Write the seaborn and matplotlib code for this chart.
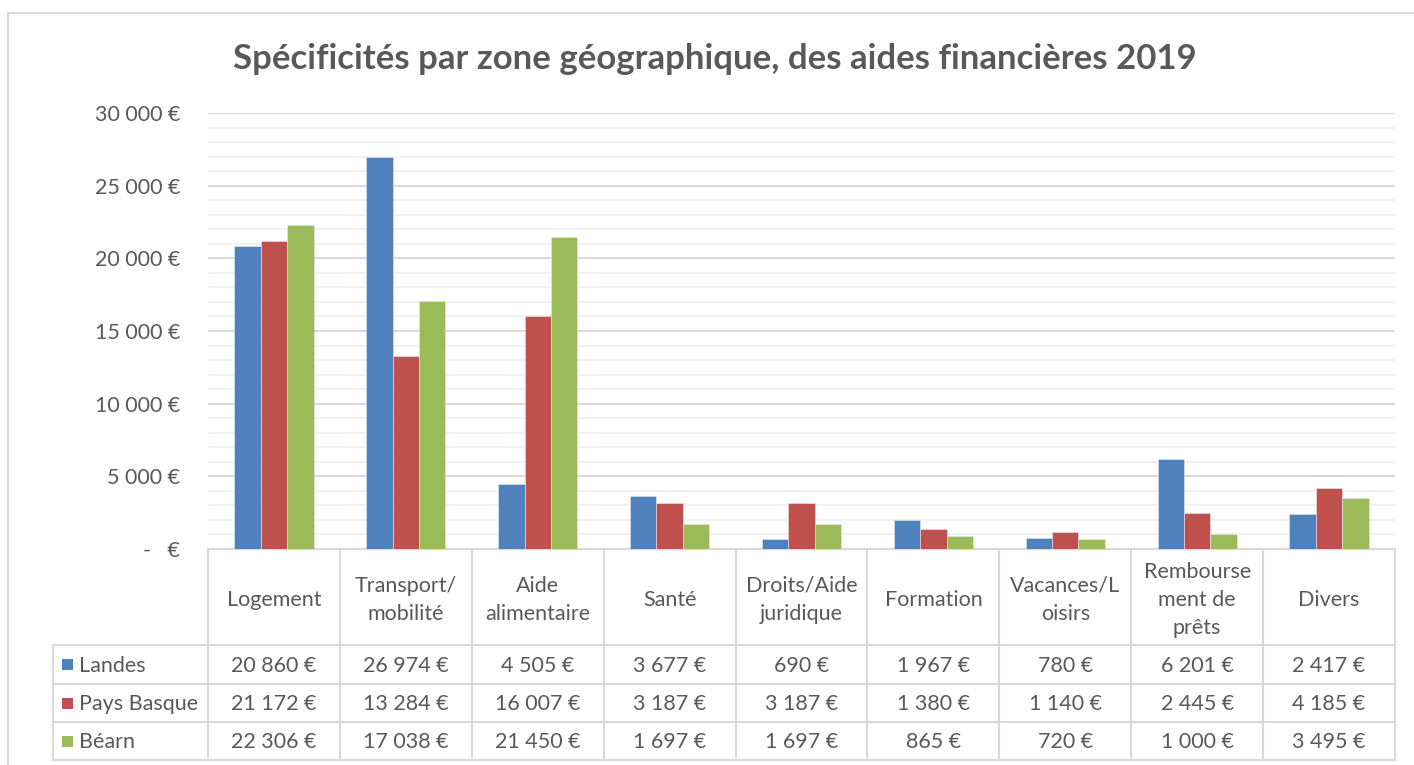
import matplotlib
matplotlib.use("Agg")
import matplotlib.pyplot as plt
import seaborn as sns
import pandas as pd
import numpy as np
from matplotlib.patches import Rectangle
from matplotlib.lines import Line2D
from matplotlib.ticker import MultipleLocator, FuncFormatter

categories = ["Logement", "Transport/\nmobilité", "Aide\nalimentaire", "Santé",
              "Droits/Aide\njuridique", "Formation", "Vacances/L\noisirs",
              "Rembourse\nment de\nprêts", "Divers"]
series = ["Landes", "Pays Basque", "Béarn"]
landes = [20860, 26974, 4505, 3677, 690, 1967, 780, 6201, 2417]
pays_basque = [21172, 13284, 16007, 3187, 3187, 1380, 1140, 2445, 4185]
bearn = [22306, 17038, 21450, 1697, 1697, 865, 720, 1000, 3495]
colors = ["#4F81BD", "#C0504D", "#9BBB59"]
title = "Spécificités par zone géographique, des aides financières 2019"

sns.set_theme(style="white")
plt.rcParams['font.family'] = ['Lato', 'DejaVu Sans']

W, H = 1414, 765
fig = plt.figure(figsize=(W / 100, H / 100), dpi=100)

def fx(px):
    return px / W

def fy(py):
    return 1 - py / H

TXT = "#595959"
GRID = "#d9d9d9"
FS = 15.5

ax_l, ax_r, ax_t, ax_b = 208, 1395, 113, 549
ax = fig.add_axes([fx(ax_l), fy(ax_b), fx(ax_r - ax_l), (ax_b - ax_t) / H])

# outer chart border
fig.patches.append(Rectangle((fx(8), fy(780)), fx(1420), (780 - 13) / H,
                             transform=fig.transFigure, fill=False,
                             edgecolor=GRID, lw=1.5, zorder=0))

df = pd.DataFrame({
    "cat": np.repeat(categories, 3),
    "serie": series * len(categories),
    "val": [v for trio in zip(landes, pays_basque, bearn) for v in trio],
})
sns.barplot(data=df, x="cat", y="val", hue="serie", order=categories,
            hue_order=series, palette=colors, width=0.6, saturation=1, ax=ax,
            edgecolor="#e4e9f1", linewidth=0.4, legend=False, zorder=3)

ax.set_xlim(-0.5, len(categories) - 0.5)
ax.set_ylim(0, 30000)
ax.yaxis.set_major_locator(MultipleLocator(5000))
ax.yaxis.set_minor_locator(MultipleLocator(1000))

def fmt(v, pos=None):
    if v == 0:
        return "-   €"
    return f"{int(v):,}".replace(",", " ") + " €"

ax.yaxis.set_major_formatter(FuncFormatter(fmt))
ax.grid(which="major", axis="y", color=GRID, lw=1.5, zorder=0)
ax.grid(which="minor", axis="y", color="#efefef", lw=1.2, zorder=0)
ax.tick_params(axis="y", which="both", length=0, labelsize=FS,
               labelcolor=TXT, pad=20)
ax.set_xticks([])
ax.set_xlabel("")
ax.set_ylabel("")
for s in ["top", "right", "left"]:
    ax.spines[s].set_visible(False)
ax.spines["bottom"].set_color(GRID)
ax.spines["bottom"].set_linewidth(1.5)

fig.text(fx(715), fy(59), title, ha="center", va="center", fontsize=25,
         fontweight="bold", color=TXT)

# data table drawn below the axes
n = len(categories)
col_w = (ax_r - ax_l) / n
tbl_left = 53
hdr_bot = 645
row_edges = [645, 683.5, 722, 760]
col_edges = [ax_l + i * col_w for i in range(n + 1)]

def hline(y, x0, x1):
    fig.add_artist(Line2D([fx(x0), fx(x1)], [fy(y), fy(y)], color=GRID, lw=1.5,
                          transform=fig.transFigure))

def vline(x, y0, y1):
    fig.add_artist(Line2D([fx(x), fx(x)], [fy(y0), fy(y1)], color=GRID, lw=1.5,
                          transform=fig.transFigure))

for y in row_edges:
    hline(y, tbl_left, ax_r)
for x in col_edges:
    vline(x, ax_b, row_edges[-1])
vline(tbl_left, hdr_bot, row_edges[-1])

for i, cat in enumerate(categories):
    xc = (col_edges[i] + col_edges[i + 1]) / 2
    fig.text(fx(xc), fy(600), cat, ha="center", va="center",
             fontsize=FS, color=TXT, linespacing=1.5, multialignment="center")

for r, (name, vals, col) in enumerate(zip(series, (landes, pays_basque, bearn), colors)):
    yc = (row_edges[r] + row_edges[r + 1]) / 2
    fig.patches.append(Rectangle((fx(62), fy(yc + 6)), fx(11), 11 / H,
                                 transform=fig.transFigure, facecolor=col,
                                 edgecolor="none", zorder=5))
    fig.text(fx(79), fy(yc + 1.5), name, ha="left", va="center", fontsize=FS, color=TXT)
    for i, v in enumerate(vals):
        xc = (col_edges[i] + col_edges[i + 1]) / 2
        fig.text(fx(xc), fy(yc + 1.5), fmt(v), ha="center", va="center",
                 fontsize=FS, color=TXT)

fig.savefig("out.png", dpi=100)
